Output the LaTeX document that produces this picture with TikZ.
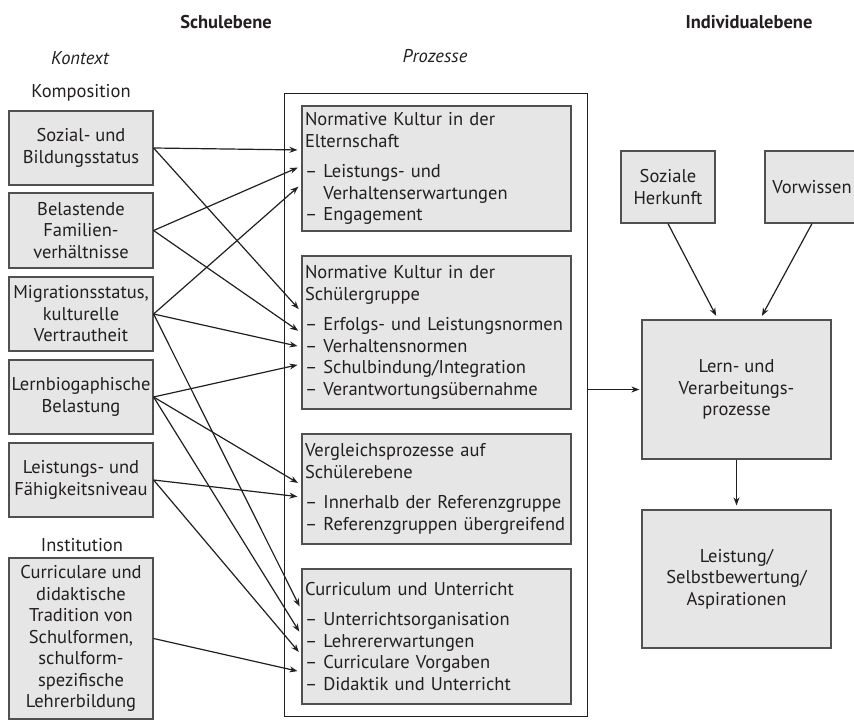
\documentclass[tikz,border=0pt]{standalone}
\usepackage{fontspec}
\setmainfont{PT Sans}
\usetikzlibrary{arrows.meta}
\definecolor{boxfill}{HTML}{E6E6E6}
\definecolor{boxline}{HTML}{505050}
\definecolor{ink}{HTML}{231F20}
\tikzset{
every picture/.style={
line width=1.2pt
}}

\begin{document}
\begin{tikzpicture}[x=1pt, y=-1pt, >={Stealth[length=8pt,width=6pt]},
ctx/.style = {rectangle, draw=boxline, fill=boxfill, minimum width=144pt, minimum height=74pt, align=center, inner sep=1pt},
proc/.style = {rectangle, draw=boxline, fill=boxfill, text width=263pt, align=left, inner xsep=3pt, inner ysep=5pt},
ind/.style = {rectangle, draw=boxline, fill=boxfill, align=center, inner sep=1pt},
lbl/.style = {inner sep=0pt},
font=\fontsize{18.5}{21.5}\selectfont, color=ink]

\useasboundingbox (0,0) rectangle (854,720);
\clip (0,0) rectangle (854,720);

% headings
\node[lbl] (schule) at (226,22) {\bfseries Schulebene};
\node[lbl] (indiv) at (749,22) {\bfseries Individualebene};
\node[lbl] (kontext) at (80,58) {\itshape Kontext};
\node[lbl] (prozesse) at (435,56) {\itshape Prozesse};
\node[lbl] (kompos) at (81,93) {Komposition};
\node[lbl] (instit) at (82,545) {Institution};

% frame round the processes
\node[draw=ink, line width=1pt, fill=white, minimum width=303pt, minimum height=623pt] (frame) at (435.5,404.5) {};

% context
\node[ctx] (soz) at (81,148) {Sozial- und\\Bildungsstatus};
\node[ctx, minimum height=75pt] (bel) at (81,230.5) {Belastende\\Familien-\\verhältnisse};
\node[ctx] (mig) at (81,314) {Migrationsstatus,\\kulturelle\\Vertrautheit};
\node[ctx] (lbio) at (81,397) {Lernbiogaphische\\Belastung};
\node[ctx] (lniv) at (81,480) {Leistungs- und\\Fähigkeitsniveau};
\node[ctx, minimum height=161pt] (curr) at (81,638.5) {Curriculare und\\didaktische\\Tradition von\\Schulformen,\\schulform-\\spezifische\\Lehrerbildung};

% processes
\node[proc, minimum height=125pt] (elt) at (436.5,168.5) {Normative Kultur in der\\Elternschaft\\[9pt]– Leistungs- und\\\hphantom{– }Verhaltenserwartungen\\– Engagement};
\node[proc, minimum height=153pt] (sch) at (436.5,332.5) {Normative Kultur in der\\Schülergruppe\\[9pt]– Erfolgs- und Leistungsnormen\\– Verhaltensnormen\\– Schulbindung/Integration\\– Verantwortungsübernahme};
\node[proc, minimum height=110pt] (vgl) at (436.5,489) {Vergleichsprozesse auf\\Schülerebene\\[9pt]– Innerhalb der Referenzgruppe\\– Referenzgruppen übergreifend};
\node[proc, minimum height=135pt] (unt) at (436.5,636.5) {Curriculum und Unterricht\\[9pt]– Unterrichtsorganisation\\– Lehrererwartungen\\– Curriculare Vorgaben\\– Didaktik und Unterricht};

% individual level
\node[ind, minimum width=94pt, minimum height=72pt] (herk) at (668,187) {Soziale\\Herkunft};
\node[ind, minimum width=94pt, minimum height=72pt] (vorw) at (812,187) {Vorwissen};
\node[ind, minimum width=189pt, minimum height=139pt] (lern) at (736.5,389.5) {Lern- und\\Verarbeitungs-\\prozesse};
\node[ind, minimum width=189pt, minimum height=138pt] (leist) at (736.5,579) {Leistung/\\Selbstbewertung/\\Aspirationen};

% context -> processes
\begin{scope}[->, shorten >=4pt]
\draw (soz.east) -- (elt.west |- 0,150);
\draw (soz.east) -- (sch.west |- 0,312);
\draw (bel.east) -- (elt.west |- 0,166);
\draw (bel.east) -- (sch.west |- 0,333);
\draw (mig.east) -- (elt.west |- 0,184);
\draw (mig.east) -- (sch.west |- 0,347);
\draw (mig.east) -- (unt.west |- 0,610);
\draw (lbio.east) -- (sch.west |- 0,364);
\draw (lbio.east) -- (vgl.west |- 0,485);
\draw (lbio.east) -- (unt.west |- 0,635);
\draw (lniv.east) -- (vgl.west |- 0,497);
\draw (lniv.east) -- (unt.west |- 0,655);
\draw (curr.east) -- (unt.west |- 0,672);
\end{scope}

% school level -> individual level
\draw[->, shorten >=2pt] (frame.east |- lern.west) -- (lern.west);
\draw[->, shorten >=4pt] (herk.south) -- (lern.north -| 718,0);
\draw[->, shorten >=4pt] (vorw.south) -- (lern.north -| 760,0);
\draw[->, shorten >=4pt] (lern) -- (leist);
\end{tikzpicture}
\end{document}
